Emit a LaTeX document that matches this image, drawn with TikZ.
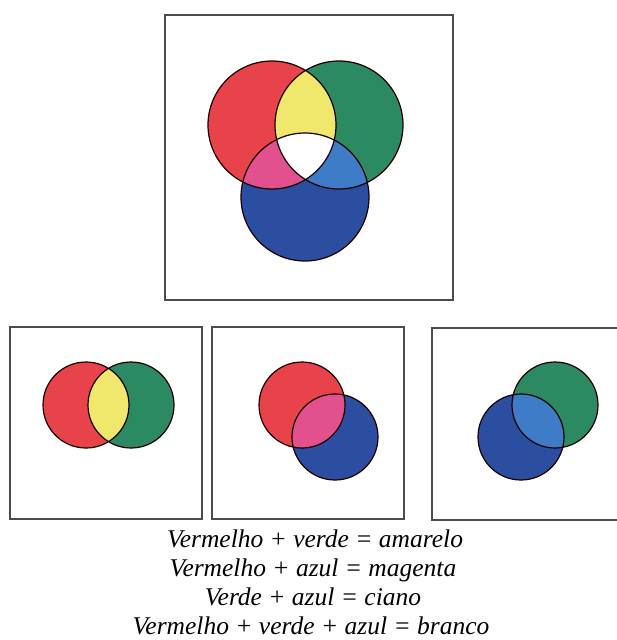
\documentclass[tikz,border=0pt]{standalone}
\usepackage{fontspec}
\setmainfont{Liberation Serif}
\begin{document}
\begin{tikzpicture}[x=1pt,y=-1pt,
  frame/.style={draw=black!70,line width=1.3pt},
  ring/.style={draw=black!75!red!40!black,line width=1.2pt},
  caption/.style={font=\fontsize{25.5}{30}\selectfont\itshape,anchor=base,inner sep=0pt}]
\definecolor{cred}{RGB}{232,66,74}
\definecolor{cgreen}{RGB}{44,138,98}
\definecolor{cblue}{RGB}{44,78,160}
\definecolor{cyellow}{RGB}{240,232,108}
\definecolor{cmag}{RGB}{226,80,142}
\definecolor{ccyan}{RGB}{62,124,200}
\useasboundingbox (0,0) rectangle (616,640);
\fill[white] (0,0) rectangle (616,640);
% ---------- top panel ----------
\draw[frame] (165,15) rectangle (453,300);
\coordinate (R) at (272,125);
\coordinate (G) at (339,125);
\coordinate (B) at (305,197);
\def\rr{64}
\fill[cred] (R) circle (\rr);
\fill[cgreen] (G) circle (\rr);
\fill[cblue] (B) circle (\rr);
\begin{scope}\clip (R) circle (\rr); \fill[cyellow] (G) circle (\rr); \end{scope}
\begin{scope}\clip (R) circle (\rr); \fill[cmag] (B) circle (\rr); \end{scope}
\begin{scope}\clip (G) circle (\rr); \fill[ccyan] (B) circle (\rr); \end{scope}
\begin{scope}\clip (R) circle (\rr); \clip (G) circle (\rr); \fill[white] (B) circle (\rr); \end{scope}
\draw[ring] (R) circle (\rr) (G) circle (\rr) (B) circle (\rr);
% ---------- bottom panels ----------
\def\rs{43}
% panel 1
\draw[frame] (10,327) rectangle (202,519);
\coordinate (R1) at (86,405);
\coordinate (G1) at (131,405);
\fill[cred] (R1) circle (\rs);
\fill[cgreen] (G1) circle (\rs);
\begin{scope}\clip (R1) circle (\rs); \fill[cyellow] (G1) circle (\rs); \end{scope}
\draw[ring] (R1) circle (\rs) (G1) circle (\rs);
% panel 2
\draw[frame] (212,327) rectangle (404,519);
\coordinate (R2) at (302,405);
\coordinate (B2) at (335,437);
\fill[cred] (R2) circle (\rs);
\fill[cblue] (B2) circle (\rs);
\begin{scope}\clip (R2) circle (\rs); \fill[cmag] (B2) circle (\rs); \end{scope}
\draw[ring] (R2) circle (\rs) (B2) circle (\rs);
% panel 3
\draw[frame] (618,328) -- (432,328) -- (432,520) -- (618,520);
\coordinate (G3) at (555,405);
\coordinate (B3) at (521,437);
\fill[cgreen] (G3) circle (\rs);
\fill[cblue] (B3) circle (\rs);
\begin{scope}\clip (G3) circle (\rs); \fill[ccyan] (B3) circle (\rs); \end{scope}
\draw[ring] (G3) circle (\rs) (B3) circle (\rs);
% ---------- caption ----------
\node[caption] (l1) at (315,547) {Vermelho + verde = amarelo};
\node[caption] (l2) at (313,576) {Vermelho + azul = magenta};
\node[caption] (l3) at (313,605) {Verde + azul = ciano};
\node[caption] (l4) at (311,634) {Vermelho + verde + azul = branco};
\end{tikzpicture}
\end{document}
